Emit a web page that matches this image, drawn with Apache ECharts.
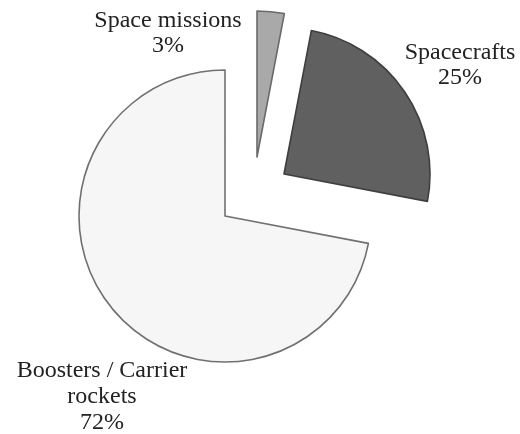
<!DOCTYPE html>
<html>
<head>
<meta charset="utf-8">
<script src="https://cdn.jsdelivr.net/npm/echarts@6/dist/echarts.min.js"></script>
<style>
  html, body { margin: 0; padding: 0; background: #ffffff; }
  #chart { width: 520px; height: 434px; }
</style>
</head>
<body>
<div id="chart"></div>
<script>
// Budget shares by segment (percent)
const categories = ['Space missions', 'Spacecrafts', 'Boosters / Carrier rockets'];
const shares = [3, 25, 72];
const labelLines = [['Space missions'], ['Spacecrafts'], ['Boosters / Carrier', 'rockets']];

// Look of each slice
const fills = ['#a9a9a9', '#606060', '#f6f6f6'];
const borders = ['#6a6a6a', '#3e3e3e', '#707070'];

// Each slice is pulled out of the pie on its own, so each gets its own centre
const sliceCenters = [[257, 157], [284, 174], [225, 216]];
const labelSpots = [[168, 33, 25], [460, 65, 25], [102, 397, 26]];
const RADIUS = 146;

const chart = echarts.init(document.getElementById('chart'), null, { renderer: 'canvas' });

const series = categories.map((_, i) => ({
  type: 'pie',
  center: sliceCenters[i],
  radius: [0, RADIUS],
  startAngle: 90,
  clockwise: true,
  avoidLabelOverlap: false,
  silent: true,
  animation: false,
  emphasis: { disabled: true },
  labelLine: { show: false },
  label: {
    position: 'outside',
    fontFamily: 'Liberation Serif',
    fontSize: 24,
    lineHeight: labelSpots[i][2],
    color: '#222222',
    align: 'center',
    formatter: p => labelLines[p.dataIndex].concat([p.percent + '%']).join('\n')
  },
  labelLayout: () => ({
    x: labelSpots[i][0],
    y: labelSpots[i][1],
    align: 'center',
    verticalAlign: 'middle'
  }),
  data: categories.map((name, j) => ({
    name,
    value: shares[j],
    itemStyle: j === i
      ? { color: fills[j], borderColor: borders[j], borderWidth: 1.6 }
      : { color: 'rgba(0,0,0,0)', borderWidth: 0 },
    label: { show: j === i }
  }))
}));

chart.setOption({
  backgroundColor: '#ffffff',
  animation: false,
  series
});
</script>
</body>
</html>
